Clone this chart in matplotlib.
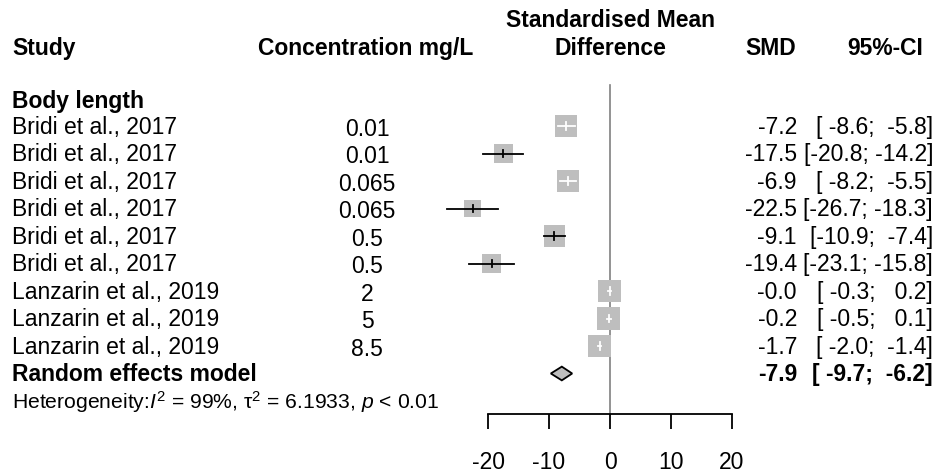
import numpy as np
import matplotlib
matplotlib.use("Agg")
import matplotlib.pyplot as plt
from matplotlib.patches import Rectangle, Polygon

plt.rcParams['font.family'] = ['Liberation Sans', 'DejaVu Sans']
plt.rcParams['font.size'] = 16.5
plt.rcParams['axes.unicode_minus'] = False
plt.rcParams['mathtext.fontset'] = 'custom'
plt.rcParams['mathtext.rm'] = 'Liberation Sans'
plt.rcParams['mathtext.it'] = 'Liberation Sans:italic'
plt.rcParams['mathtext.bf'] = 'Liberation Sans:bold'

# data
studies = ["Bridi et al., 2017"] * 6 + ["Lanzarin et al., 2019"] * 3
conc = ["0.01", "0.01", "0.065", "0.065", "0.5", "0.5", "2", "5", "8.5"]
smd = [-7.2, -17.5, -6.9, -22.5, -9.1, -19.4, -0.04, -0.2, -1.7]
ci_lo = [-8.6, -20.8, -8.2, -26.7, -10.9, -23.1, -0.3, -0.5, -2.0]
ci_hi = [-5.8, -14.2, -5.5, -18.3, -7.4, -15.8, 0.2, 0.1, -1.4]
weight = [12.1, 9.0, 12.1, 7.5, 11.6, 8.4, 13.1, 13.1, 13.1]
re_est, re_lo, re_hi = -7.9, -9.7, -6.2
group = "Body length"
het = r"Heterogeneity:$I^2$ = 99%, τ$^2$ = 6.1933, $p$ < 0.01"
ticks = [-20, -10, 0, 10, 20]

W, H = 938, 472
ROW0, STEP = 126, 27.5      # pixel y of first study row, row spacing
XPX = 6.1                   # pixels per SMD unit


def r(px):
    return (px - ROW0) / STEP


fig = plt.figure(figsize=(W / 100, H / 100), dpi=100)
ax = fig.add_axes([0, 0, 1, 1])
ax.set_xlim(0, W)
ax.set_ylim(r(H), r(0))
ax.axis('off')

fa = fig.add_axes([488 / W, 0, 244 / W, 1])
fa.set_xlim(ticks[0], ticks[-1])
fa.set_ylim(r(H), r(0))
fa.patch.set_visible(False)
for s in ['top', 'left', 'right']:
    fa.spines[s].set_visible(False)
fa.spines['bottom'].set_position(('data', r(414)))
fa.spines['bottom'].set_linewidth(1.3)
fa.set_yticks([])
fa.set_xticks(ticks)
fa.tick_params(axis='x', length=10.8, width=1.3, pad=15.5, labelsize=16.5)

# headers
bold = dict(fontweight='bold', va='center')
ax.text(12, r(48), "Study", ha='left', **bold)
ax.text(366, r(48), "Concentration mg/L", ha='center', **bold)
ax.text(610, r(20), "Standardised Mean", ha='center', **bold)
ax.text(610, r(48), "Difference", ha='center', **bold)
ax.text(796, r(48), "SMD", ha='right', **bold)
ax.text(923, r(48), "95%-CI", ha='right', **bold)
ax.text(12, r(101), group, ha='left', **bold)

# null line
fa.plot([0, 0], [r(85), r(414)], color='#808080', lw=1.2, zorder=1)

for i in range(len(studies)):
    ax.text(12, i + 0.05, studies[i], ha='left', va='center')
    ax.text(367, i + 0.12, conc[i], ha='center', va='center')
    ax.text(797, i + 0.05, f"{smd[i]:.1f}", ha='right', va='center')
    ax.text(933, i + 0.05, f"[{ci_lo[i]:5.1f}; {ci_hi[i]:5.1f}]", ha='right', va='center')

    side = 6.35 * np.sqrt(weight[i])
    wx, hy = side / XPX, side / STEP
    fa.add_patch(Rectangle((smd[i] - wx / 2, i - hy / 2), wx, hy,
                           facecolor='#bebebe', edgecolor='none', zorder=2,
                           clip_on=False))
    inside = ci_lo[i] >= smd[i] - wx / 2 and ci_hi[i] <= smd[i] + wx / 2
    col = 'white' if inside else 'black'
    fa.plot([ci_lo[i], ci_hi[i]], [i, i], color=col, lw=1.3, zorder=3, clip_on=False)
    fa.plot([smd[i], smd[i]], [i - 0.13, i + 0.13], color=col, lw=1.3, zorder=3,
            clip_on=False)

# random effects
k = len(studies)
ax.text(12, k + 0.05, "Random effects model", ha='left', **bold)
ax.text(797, k + 0.05, f"{re_est:.1f}", ha='right', **bold)
ax.text(933, k + 0.05, f"[{re_lo:5.1f}; {re_hi:5.1f}]", ha='right', **bold)
fa.add_patch(Polygon([(re_lo, k), (re_est, k - 0.25), (re_hi, k), (re_est, k + 0.25)],
                     closed=True, facecolor='#bebebe', edgecolor='black', lw=1.3,
                     zorder=3, clip_on=False))
ax.text(12, k + 1.05, het, ha='left', va='center', fontsize=15.2)

fig.savefig("out.png", dpi=100)
